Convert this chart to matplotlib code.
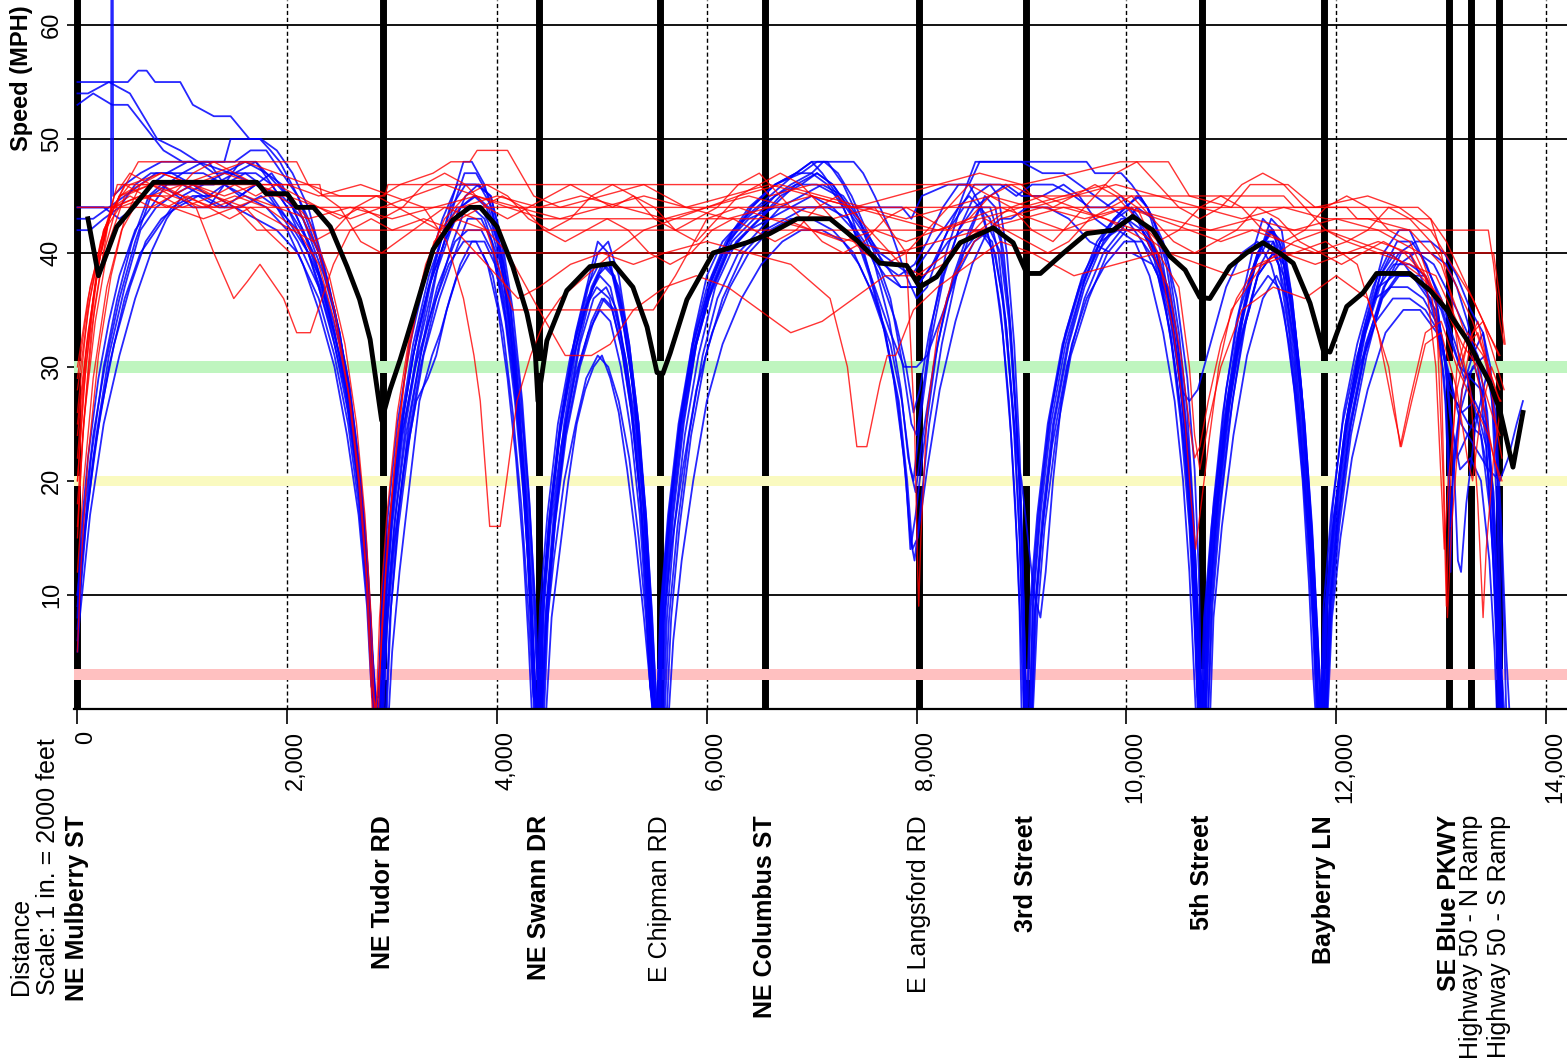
import matplotlib
matplotlib.use('Agg')
import matplotlib.pyplot as plt
from matplotlib.transforms import blended_transform_factory, ScaledTranslation

# cross streets along the corridor (feet from NE Mulberry ST)
street_names = ['NE Mulberry ST', 'NE Tudor RD', 'NE Swann DR', 'E Chipman RD',
                'NE Columbus ST', 'E Langsford RD', '3rd Street', '5th Street',
                'Bayberry LN', 'SE Blue PKWY', 'Highway 50 - N Ramp', 'Highway 50 - S Ramp']
street_ft = [0, 2912, 4400, 5553, 6554, 8021, 9042, 10719, 11883, 13075, 13285, 13552]

x_ticks = [0, 2000, 4000, 6000, 8000, 10000, 12000, 14000]
x_tick_labels = ['0', '2,000', '4,000', '6,000', '8,000', '10,000', '12,000', '14,000']
y_ticks = [10, 20, 30, 40, 50, 60]

# reference speeds drawn as coloured bands (mph)
band_green = 30
band_yellow = 20
band_pink = 3

# average speed profile
mean_ft = [100, 200, 375, 565, 725, 1710, 1800, 2000, 2090, 2250, 2410, 2570, 2690, 2790, 2900,
           2980, 3075, 3200, 3390, 3580, 3740, 3840, 4000, 4150, 4285, 4365, 4390, 4475, 4665,
           4885, 5105, 5295, 5430, 5525, 5580, 5650, 5810, 6060, 6380, 6600, 6860, 7175, 7430,
           7650, 7905, 8030, 8190, 8415, 8730, 8920, 9050, 9180, 9400, 9620, 9875, 10060, 10250,
           10415, 10560, 10700, 10795, 10985, 11145, 11300, 11460, 11590, 11750, 11875, 11940,
           12100, 12255, 12385, 12700, 12895, 13055, 13245, 13465, 13560, 13685, 13780]
mean_mph = [43, 38, 42.3, 44.4, 46.2, 46.2, 45.2, 45.2, 44, 44, 42.3, 38.8, 35.9, 32.4, 25.3,
            28, 30.6, 34.4, 40.3, 42.9, 44, 44, 42.3, 38.8, 34.7, 31.2, 27, 32.3, 36.7,
            38.8, 39.1, 37, 33.5, 29.5, 29.4, 31.2, 35.9, 40, 40.9, 41.7, 43, 43, 41.1,
            39.1, 38.9, 37, 37.9, 40.9, 42.2, 40.9, 38.2, 38.2, 40, 41.7, 42, 43.2, 42,
            39.7, 38.5, 36.1, 36, 38.8, 40, 40.9, 40, 39.1, 35.6, 31.5, 31.3,
            35.3, 36.5, 38.2, 38.2, 36.7, 35, 32.4, 28.6, 26.2, 21.2, 26]

# eastbound runs, (feet, mph)
blue_runs = [
    [(0, 55), (480, 55), (580, 56), (660, 56), (740, 55), (980, 55), (1100, 53), (1300, 52), (1460, 52),
     (1550, 51), (1640, 50), (1740, 50), (1840, 49), (1930, 48), (2100, 45), (2300, 40), (2450, 35),
     (2580, 29), (2680, 22), (2750, 15), (2800, 7), (2830, 0), (2900, 0),
     (2930, 8), (3000, 16), (3100, 24), (3230, 31), (3380, 38), (3550, 44), (3680, 48), (3760, 48),
     (3880, 46), (4000, 42), (4120, 36), (4220, 28), (4300, 19), (4360, 10), (4400, 2), (4430, 0),
     (4470, 9), (4540, 17), (4640, 25), (4760, 32), (4900, 37), (5000, 39), (5100, 38), (5220, 33),
     (5330, 26), (5420, 17), (5480, 8), (5520, 0), (5580, 0),
     (5610, 9), (5680, 17), (5780, 25), (5900, 32), (6050, 38), (6250, 42), (6500, 44), (6800, 46),
     (7000, 47), (7110, 48), (7400, 48), (7490, 47), (7600, 45), (7750, 42), (7900, 38), (8000, 36),
     (8100, 37), (8250, 41), (8400, 44), (8560, 48), (9620, 48), (9700, 47), (9950, 47), (10050, 46),
     (10200, 44), (10350, 41), (10480, 36), (10580, 29), (10650, 21), (10690, 12), (10710, 3), (10740, 0),
     (10780, 10), (10850, 19), (10950, 28), (11080, 35), (11250, 40), (11400, 42), (11500, 40),
     (11600, 34), (11700, 25), (11780, 14), (11830, 5), (11860, 0), (11900, 0),
     (11940, 10), (12020, 19), (12130, 27), (12280, 34), (12450, 40), (12600, 42), (12700, 42),
     (12850, 39), (13000, 36), (13100, 33), (13250, 29), (13380, 24), (13470, 17), (13530, 8), (13560, 0)],
    [(0, 54), (100, 54), (300, 55), (500, 54), (760, 50), (980, 49), (1150, 48), (1460, 47), (1700, 46),
     (1950, 45), (2150, 43), (2350, 38), (2500, 33), (2620, 26), (2720, 17), (2780, 9), (2810, 1), (2870, 1),
     (2900, 9), (2960, 17), (3050, 25), (3170, 32), (3320, 38), (3480, 43), (3620, 46), (3800, 46),
     (3940, 45), (4050, 41), (4150, 35), (4240, 27), (4310, 18), (4360, 9), (4390, 1), (4420, 1),
     (4450, 10), (4520, 18), (4620, 26), (4750, 33), (4880, 38), (4960, 41), (5060, 40), (5180, 35),
     (5300, 28), (5390, 20), (5450, 11), (5490, 3), (5510, 0), (5560, 0),
     (5590, 10), (5660, 18), (5760, 26), (5880, 33), (6000, 38), (6150, 41), (6350, 43), (6600, 45),
     (6850, 47), (7000, 48), (7100, 47), (7250, 45), (7400, 42), (7550, 38), (7700, 33), (7820, 27),
     (7900, 20), (7940, 14), (7990, 17), (8080, 24), (8200, 32), (8350, 38), (8500, 42), (8600, 44),
     (8700, 43), (8780, 40), (8860, 33), (8930, 24), (8980, 15), (9010, 6), (9030, 0), (9080, 0),
     (9110, 9), (9180, 17), (9280, 25), (9420, 32), (9580, 37), (9750, 41), (9900, 43), (10050, 44),
     (10200, 42), (10320, 38), (10430, 32), (10520, 25), (10600, 16), (10650, 7), (10680, 0), (10730, 0),
     (10760, 9), (10830, 18), (10920, 26), (11050, 34), (11200, 40), (11300, 43), (11400, 42),
     (11500, 38), (11600, 31), (11680, 23), (11750, 14), (11800, 5), (11830, 0), (11870, 0),
     (11900, 9), (11970, 18), (12070, 26), (12200, 32), (12350, 37), (12500, 40), (12650, 39),
     (12800, 37), (12950, 35), (13050, 30), (13120, 22), (13160, 13), (13190, 12), (13240, 18),
     (13330, 25), (13450, 30), (13520, 26), (13580, 15), (13620, 5), (13650, 0)],
    [(0, 53), (150, 54), (330, 53), (480, 53), (820, 49), (1000, 48), (1300, 48), (1500, 48), (1650, 49),
     (1800, 49), (1950, 47), (2100, 45), (2250, 42), (2400, 37), (2550, 30), (2650, 23), (2730, 15),
     (2790, 6), (2820, 0), (2880, 0),
     (2910, 8), (2980, 16), (3080, 24), (3200, 31), (3350, 37), (3500, 41), (3650, 44), (3800, 45),
     (3920, 44), (4030, 40), (4120, 34), (4200, 27), (4270, 18), (4320, 9), (4350, 1), (4380, 1),
     (4410, 9), (4480, 17), (4580, 25), (4700, 31), (4830, 35), (4950, 37), (5070, 36), (5180, 32),
     (5280, 26), (5370, 18), (5430, 10), (5470, 2), (5500, 0), (5540, 0),
     (5570, 9), (5640, 17), (5740, 25), (5870, 32), (6020, 37), (6200, 41), (6400, 43), (6650, 44),
     (7000, 44), (7300, 44), (7600, 44), (7860, 44), (7950, 43), (8050, 45), (8300, 46), (8500, 46),
     (8620, 44), (8720, 40), (8820, 33), (8900, 24), (8960, 14), (9000, 5), (9020, 0), (9060, 0),
     (9090, 9), (9160, 17), (9260, 25), (9400, 32), (9560, 37), (9720, 40), (9880, 42), (10000, 42),
     (10150, 42), (10300, 40), (10420, 36), (10520, 30), (10600, 22), (10660, 13), (10700, 4),
     (10720, 0), (10760, 0),
     (10790, 9), (10860, 18), (10960, 27), (11090, 34), (11220, 39), (11350, 41), (11450, 39),
     (11550, 33), (11650, 25), (11730, 16), (11790, 7), (11820, 0), (11870, 0),
     (11900, 8), (11980, 17), (12090, 25), (12230, 32), (12400, 37), (12550, 38), (12700, 38),
     (12850, 38), (12950, 36), (13030, 31), (13080, 26), (13150, 22), (13250, 24), (13350, 26),
     (13430, 23), (13490, 14), (13530, 5), (13550, 0)],
    [(0, 44), (200, 44), (320, 44), (325, 75), (335, 75), (340, 45), (450, 46), (600, 47), (800, 48),
     (1150, 48), (1300, 47), (1500, 47), (1700, 48), (1900, 46), (2100, 44), (2300, 40), (2450, 35),
     (2600, 28), (2700, 20), (2770, 12), (2820, 4), (2850, 0), (2910, 0),
     (2950, 7), (3030, 15), (3140, 23), (3270, 30), (3420, 36), (3580, 41), (3700, 44), (3850, 44),
     (3950, 42), (4060, 38), (4160, 31), (4240, 23), (4300, 15), (4340, 7), (4370, 0), (4420, 0),
     (4460, 8), (4540, 16), (4650, 24), (4780, 30), (4900, 34), (5000, 36), (5100, 35), (5200, 31),
     (5300, 25), (5380, 17), (5440, 9), (5480, 2), (5510, 0), (5600, 0),
     (5640, 8), (5720, 16), (5830, 24), (5960, 31), (6100, 36), (6300, 40), (6500, 42), (6700, 44),
     (6900, 45), (7100, 46), (7300, 45), (7450, 43), (7600, 40), (7750, 36), (7870, 30), (7950, 25),
     (8000, 24), (8060, 28), (8150, 34), (8280, 40), (8420, 44), (8550, 46), (8700, 46),
     (8800, 46), (8950, 45), (9100, 46), (9300, 46), (9500, 45), (9650, 44), (9800, 44), (9950, 45),
     (10100, 43), (10250, 40), (10380, 35), (10480, 29), (10560, 22), (10620, 14), (10660, 6),
     (10680, 0), (10740, 0),
     (10780, 8), (10860, 17), (10970, 26), (11100, 33), (11250, 38), (11400, 40), (11500, 39),
     (11600, 34), (11690, 26), (11770, 16), (11820, 7), (11850, 0), (11910, 0),
     (11950, 9), (12030, 17), (12140, 25), (12290, 32), (12450, 37), (12600, 39), (12750, 40),
     (12900, 40), (13050, 39), (13150, 37), (13250, 34), (13350, 30), (13430, 23), (13500, 13),
     (13540, 4), (13560, 0)],
    [(0, 43), (150, 43), (300, 44), (450, 45), (600, 46), (750, 47), (900, 47), (1100, 46), (1250, 45),
     (1400, 46), (1550, 48), (1700, 48), (1850, 46), (2000, 44), (2200, 41), (2350, 37), (2500, 32),
     (2600, 26), (2700, 18), (2760, 11), (2800, 4), (2820, 0), (2880, 0),
     (2910, 9), (2980, 17), (3080, 25), (3200, 32), (3350, 38), (3500, 42), (3620, 44), (3760, 44),
     (3880, 43), (3990, 40), (4090, 35), (4180, 28), (4260, 19), (4320, 10), (4360, 2), (4390, 0),
     (4420, 8), (4490, 16), (4590, 24), (4710, 30), (4840, 35), (4960, 38), (5060, 39), (5160, 37),
     (5260, 32), (5350, 25), (5420, 17), (5470, 9), (5510, 2), (5530, 0), (5590, 0),
     (5620, 8), (5690, 16), (5790, 24), (5920, 31), (6080, 37), (6280, 41), (6500, 43), (6700, 45),
     (6900, 46), (7050, 47), (7200, 46), (7350, 44), (7500, 40), (7650, 35), (7780, 29), (7880, 22),
     (7940, 15), (7980, 13), (8030, 17), (8120, 25), (8240, 32), (8380, 38), (8520, 42), (8650, 45),
     (8750, 44), (8830, 40), (8900, 33), (8960, 24), (9000, 15), (9030, 6), (9050, 0), (9100, 0),
     (9140, 9), (9210, 17), (9310, 25), (9450, 32), (9600, 37), (9780, 41), (9950, 43), (10100, 43),
     (10250, 41), (10380, 37), (10480, 31), (10560, 24), (10630, 15), (10680, 6), (10700, 0), (10760, 0),
     (10800, 9), (10880, 18), (10990, 27), (11120, 35), (11260, 40), (11380, 42), (11480, 40),
     (11580, 35), (11670, 27), (11740, 18), (11800, 8), (11830, 0), (11880, 0),
     (11920, 9), (12000, 18), (12110, 26), (12250, 33), (12420, 38), (12560, 40), (12700, 40),
     (12850, 37), (12980, 33), (13040, 27), (13070, 20), (13090, 12), (13110, 20), (13180, 26),
     (13300, 30), (13420, 31), (13500, 26), (13560, 17), (13600, 7), (13620, 0)],
    [(0, 42), (120, 42), (250, 43), (400, 44), (550, 46), (700, 47), (850, 47), (1000, 47), (1200, 48),
     (1400, 48), (1460, 50), (1750, 50), (1900, 49), (2050, 47), (2200, 44), (2350, 39), (2500, 33),
     (2630, 25), (2730, 16), (2790, 8), (2830, 0), (2940, 0),
     (2980, 8), (3060, 16), (3170, 24), (3300, 31), (3450, 36), (3600, 40), (3720, 43), (3850, 43),
     (3950, 41), (4060, 36), (4150, 30), (4230, 22), (4290, 14), (4330, 6), (4350, 0), (4400, 0),
     (4440, 8), (4510, 16), (4610, 23), (4740, 29), (4870, 33), (4980, 35), (5080, 34), (5180, 30),
     (5280, 24), (5360, 17), (5420, 9), (5460, 2), (5480, 0), (5520, 0),
     (5560, 9), (5630, 17), (5730, 25), (5860, 32), (6000, 37), (6180, 41), (6400, 44), (6650, 46),
     (6850, 47), (7000, 47), (7150, 46), (7300, 44), (7450, 41), (7600, 37), (7750, 33), (7880, 30),
     (8000, 30), (8100, 31), (8220, 34), (8380, 38), (8550, 41), (8700, 42),
     (8800, 40), (8880, 34), (8950, 25), (9000, 16), (9020, 8), (9040, 0), (9090, 0),
     (9120, 8), (9190, 15), (9290, 23), (9430, 30), (9600, 36), (9780, 40), (9950, 42), (10100, 44),
     (10250, 43), (10400, 39), (10500, 33), (10580, 26), (10640, 17), (10680, 8), (10700, 0), (10780, 0),
     (10810, 9), (10880, 17), (10980, 25), (11110, 33), (11250, 38), (11400, 40), (11500, 38),
     (11600, 32), (11680, 24), (11750, 15), (11800, 6), (11830, 0), (11890, 0),
     (11930, 8), (12010, 16), (12120, 24), (12270, 31), (12440, 36), (12600, 38), (12750, 38),
     (12900, 36), (13000, 33), (13080, 28), (13200, 26), (13320, 27), (13420, 25), (13500, 19),
     (13550, 9), (13580, 0)],
    [(0, 8), (30, 15), (100, 22), (200, 29), (300, 34), (400, 38), (550, 42), (700, 44), (850, 46),
     (1000, 46), (1200, 45), (1400, 44), (1550, 45), (1700, 46), (1850, 45), (2000, 43), (2200, 40),
     (2350, 36), (2500, 31), (2620, 25), (2720, 17), (2790, 8), (2830, 1), (2900, 1),
     (2940, 10), (3010, 18), (3110, 26), (3240, 33), (3400, 39), (3560, 44), (3700, 46), (3830, 46),
     (3950, 44), (4060, 39), (4160, 32), (4250, 24), (4320, 14), (4370, 5), (4400, 0), (4450, 0),
     (4490, 9), (4560, 17), (4660, 25), (4790, 32), (4920, 36), (5040, 37), (5140, 35), (5240, 30),
     (5330, 23), (5410, 14), (5470, 5), (5500, 0), (5550, 0),
     (5580, 9), (5650, 17), (5750, 25), (5870, 31), (6020, 36), (6200, 40), (6400, 42), (6600, 43),
     (6800, 44), (7000, 45), (7200, 44), (7400, 42), (7550, 40), (7700, 38), (7850, 37), (8000, 37),
     (8150, 39), (8300, 41), (8450, 42),
     (8600, 42), (8750, 40), (8850, 34), (8930, 25), (8980, 16), (9010, 7), (9030, 0), (9080, 0),
     (9110, 10), (9180, 18), (9280, 26), (9420, 33), (9580, 38), (9750, 41), (9920, 42), (10080, 41),
     (10220, 38), (10350, 33), (10460, 27), (10540, 20), (10600, 12), (10640, 4), (10660, 0), (10720, 0),
     (10750, 8), (10820, 16), (10920, 24), (11050, 31), (11200, 36), (11350, 38), (11450, 37),
     (11550, 32), (11640, 25), (11720, 16), (11780, 7), (11810, 0), (11850, 0),
     (11880, 9), (11950, 17), (12060, 25), (12200, 31), (12370, 36), (12520, 37), (12680, 37),
     (12830, 36), (12950, 34), (13030, 29), (13070, 23), (13090, 16), (13120, 22), (13200, 28),
     (13300, 31), (13400, 33), (13470, 30), (13530, 22), (13560, 12), (13580, 3), (13600, 0)],
    [(0, 5), (50, 14), (130, 22), (250, 30), (380, 36), (520, 41), (680, 45), (800, 46), (950, 45),
     (1100, 44), (1250, 44), (1400, 46), (1600, 47), (1750, 46), (1900, 44), (2100, 41), (2300, 37),
     (2450, 32), (2580, 26), (2680, 19), (2760, 11), (2810, 3), (2840, 0), (2900, 0),
     (2950, 9), (3020, 16), (3130, 24), (3270, 31), (3430, 37), (3600, 41), (3720, 42), (3850, 42),
     (3960, 40), (4070, 35), (4170, 28), (4250, 20), (4310, 12), (4350, 4), (4370, 0), (4430, 0),
     (4470, 8), (4550, 16), (4660, 24), (4790, 30), (4920, 34), (5020, 36), (5120, 35), (5220, 31),
     (5320, 25), (5400, 17), (5460, 8), (5500, 1), (5530, 0), (5620, 0),
     (5660, 8), (5740, 16), (5850, 24), (5990, 31), (6150, 36), (6350, 40), (6550, 42), (6750, 43),
     (6950, 44), (7150, 44), (7350, 43), (7500, 41), (7650, 38), (7800, 34), (7900, 30), (7970, 26),
     (8030, 28), (8120, 33), (8250, 38), (8400, 42), (8550, 44), (8700, 45),
     (8850, 46), (9000, 45), (9200, 45), (9400, 46), (9550, 45), (9700, 43), (9850, 42), (10000, 43),
     (10150, 42), (10300, 39), (10420, 34), (10520, 28), (10600, 20), (10660, 11), (10700, 3),
     (10720, 0), (10780, 0),
     (10820, 9), (10900, 18), (11010, 27), (11140, 34), (11280, 39), (11400, 41), (11500, 39),
     (11600, 33), (11690, 25), (11760, 16), (11820, 6), (11850, 0), (11900, 0),
     (11940, 9), (12020, 17), (12130, 25), (12280, 32), (12430, 36), (12580, 38), (12730, 38),
     (12880, 37), (13000, 35), (13100, 32), (13220, 29), (13320, 30), (13420, 27), (13480, 19),
     (13520, 9), (13540, 0)],
    [(0, 10), (60, 17), (150, 24), (260, 30), (400, 36), (550, 41), (700, 45), (850, 46), (1000, 47),
     (1200, 47), (1400, 46), (1600, 45), (1800, 44), (2000, 42), (2150, 39), (2300, 35), (2450, 30),
     (2570, 24), (2680, 17), (2760, 9), (2800, 2), (2860, 0),
     (2900, 8), (2970, 16), (3070, 24), (3200, 31), (3350, 37), (3500, 41), (3650, 44), (3780, 45),
     (3900, 44), (4000, 41), (4100, 35), (4190, 28), (4260, 20), (4320, 11), (4360, 3), (4380, 0),
     (4440, 0),
     (4480, 9), (4550, 17), (4650, 25), (4780, 32), (4910, 37), (5020, 39), (5120, 38), (5220, 34),
     (5310, 27), (5390, 19), (5450, 10), (5490, 2), (5510, 0), (5570, 0),
     (5600, 9), (5670, 17), (5770, 25), (5900, 32), (6050, 37), (6240, 41), (6450, 43), (6650, 45),
     (6850, 46), (7050, 47), (7200, 46), (7350, 44), (7500, 42), (7650, 40), (7800, 39), (7950, 38),
     (8100, 40), (8250, 42), (8400, 44), (8500, 45),
     (8600, 44), (8700, 41), (8800, 35), (8880, 27), (8940, 18), (8980, 9), (9000, 0), (9050, 0),
     (9080, 9), (9150, 17), (9250, 25), (9390, 32), (9550, 37), (9720, 41), (9880, 43), (10000, 44),
     (10100, 45), (10200, 44), (10330, 40), (10440, 34), (10530, 27), (10600, 18), (10650, 9),
     (10680, 1), (10710, 0),
     (10740, 8), (10810, 16), (10910, 24), (11040, 32), (11180, 38), (11300, 41), (11400, 41),
     (11500, 37), (11600, 30), (11680, 22), (11750, 13), (11800, 4), (11820, 0), (11860, 0),
     (11900, 9), (11980, 17), (12090, 25), (12240, 32), (12400, 37), (12550, 39), (12700, 39),
     (12850, 38), (12970, 35), (13040, 30), (13100, 25), (13180, 21), (13280, 22), (13380, 20),
     (13460, 13), (13510, 5), (13530, 0)],
    [(0, 7), (80, 16), (180, 24), (300, 31), (450, 37), (600, 42), (750, 44), (900, 45), (1100, 46),
     (1300, 46), (1500, 47), (1700, 47), (1850, 46), (2000, 44), (2200, 40), (2400, 34), (2550, 28),
     (2660, 21), (2750, 13), (2810, 5), (2850, 0), (2970, 0),
     (3000, 5), (3070, 12), (3170, 20), (3260, 27), (3380, 31), (3460, 33), (3550, 36), (3650, 39),
     (3760, 41), (3880, 41), (3980, 39), (4080, 34), (4170, 27), (4250, 19), (4310, 11), (4350, 3),
     (4370, 0), (4420, 0),
     (4460, 6), (4540, 13), (4640, 20), (4750, 25), (4850, 29), (4960, 31), (5060, 30), (5160, 27),
     (5260, 22), (5350, 15), (5420, 8), (5460, 2), (5490, 0), (5540, 0),
     (5580, 7), (5660, 14), (5770, 21), (5900, 28), (6050, 33), (6220, 37), (6400, 40), (6600, 42),
     (6800, 43), (7000, 43), (7200, 42), (7400, 40), (7550, 37), (7700, 33), (7830, 27), (7910, 20),
     (7960, 14), (8010, 15), (8100, 21), (8220, 28), (8370, 34), (8530, 39), (8680, 42), (8800, 43),
     (8900, 43), (9050, 44), (9250, 44), (9450, 43), (9650, 41), (9850, 40), (10050, 40), (10250, 39),
     (10400, 36), (10480, 31), (10520, 28), (10600, 27), (10680, 28), (10800, 32), (10950, 37),
     (11100, 40), (11250, 41), (11380, 39), (11500, 35), (11600, 28), (11680, 20), (11740, 11),
     (11780, 3), (11800, 0), (11850, 0),
     (11890, 8), (11970, 16), (12080, 24), (12220, 30), (12380, 34), (12540, 36), (12700, 36),
     (12850, 35), (12980, 33), (13060, 30), (13140, 27), (13260, 25), (13380, 24), (13480, 19),
     (13540, 10), (13570, 2), (13590, 0)],
    [(0, 9), (100, 18), (220, 26), (350, 32), (500, 37), (650, 41), (800, 43), (950, 44), (1150, 45),
     (1350, 44), (1550, 44), (1750, 45), (1900, 44), (2100, 42), (2300, 38), (2450, 33), (2600, 26),
     (2700, 18), (2770, 10), (2810, 2), (2880, 0),
     (2920, 8), (2990, 16), (3090, 24), (3220, 30), (3380, 35), (3540, 39), (3680, 41), (3800, 41),
     (3910, 39), (4010, 35), (4100, 29), (4180, 22), (4250, 14), (4300, 6), (4330, 0), (4380, 0),
     (4420, 8), (4500, 16), (4600, 24), (4730, 31), (4860, 36), (4980, 38), (5080, 37), (5180, 33),
     (5270, 27), (5360, 19), (5420, 10), (5460, 3), (5480, 0), (5530, 0),
     (5560, 8), (5630, 16), (5730, 24), (5860, 31), (6010, 36), (6190, 40), (6400, 42), (6620, 44),
     (6850, 46), (7050, 46), (7250, 45), (7400, 43), (7550, 41), (7700, 39), (7850, 37), (8000, 37),
     (8150, 39), (8300, 42), (8450, 44), (8600, 44),
     (8700, 44), (8800, 41), (8880, 35), (8940, 27), (8990, 18), (9020, 9), (9040, 0), (9110, 0),
     (9150, 8), (9220, 16), (9330, 24), (9470, 31), (9640, 36), (9820, 40), (10000, 42), (10150, 42),
     (10280, 40), (10400, 36), (10500, 30), (10580, 23), (10640, 14), (10680, 5), (10700, 0), (10740, 0),
     (10770, 9), (10840, 17), (10940, 25), (11070, 33), (11220, 39), (11360, 42), (11460, 41),
     (11560, 36), (11650, 29), (11720, 20), (11780, 10), (11810, 2), (11830, 0), (11880, 0),
     (11910, 9), (11990, 17), (12100, 25), (12250, 32), (12420, 38), (12580, 41), (12720, 41),
     (12860, 39), (12980, 36), (13080, 33), (13180, 30), (13280, 29), (13380, 28), (13460, 23),
     (13520, 13), (13550, 4), (13570, 0)],
    [(0, 6), (120, 17), (250, 25), (400, 31), (550, 36), (700, 40), (850, 43), (1000, 45), (1200, 46),
     (1400, 47), (1600, 48), (1800, 47), (1950, 46), (2100, 43), (2250, 40), (2400, 35), (2550, 29),
     (2650, 22), (2740, 14), (2800, 6), (2840, 0), (2920, 0),
     (2960, 9), (3030, 17), (3130, 25), (3260, 32), (3410, 38), (3560, 42), (3700, 45), (3820, 46),
     (3940, 45), (4040, 41), (4130, 35), (4210, 27), (4280, 18), (4330, 9), (4360, 1), (4410, 0),
     (4440, 9), (4510, 17), (4610, 25), (4740, 32), (4870, 37), (4960, 40), (5060, 41), (5160, 38),
     (5260, 32), (5350, 25), (5420, 16), (5470, 7), (5500, 0), (5540, 0),
     (5570, 9), (5640, 17), (5740, 25), (5870, 32), (6020, 37), (6200, 41), (6420, 44), (6650, 46),
     (6900, 47), (7050, 48), (7150, 48), (7300, 46), (7450, 43), (7600, 39), (7740, 34), (7850, 28),
     (7920, 22), (7970, 20), (8030, 25), (8130, 32), (8260, 38), (8400, 42), (8550, 45), (8700, 46),
     (8780, 45), (8860, 40), (8930, 32), (8980, 23), (9010, 14), (9030, 5), (9040, 0), (9100, 0),
     (9130, 9), (9200, 17), (9300, 25), (9440, 32), (9610, 38), (9800, 42), (9980, 44), (10130, 45),
     (10260, 43), (10380, 39), (10480, 33), (10560, 25), (10620, 16), (10660, 7), (10690, 0), (10740, 0),
     (10770, 8), (10850, 17), (10950, 25), (11080, 33), (11230, 39), (11380, 43), (11480, 42),
     (11580, 36), (11670, 28), (11740, 19), (11790, 9), (11820, 1), (11850, 0), (11910, 0),
     (11950, 8), (12030, 16), (12140, 24), (12290, 31), (12460, 37), (12620, 40), (12780, 40),
     (12930, 39), (13040, 37), (13150, 35), (13250, 33), (13350, 31), (13440, 26), (13500, 18),
     (13540, 8), (13570, 0)],
    [(0, 44), (250, 44), (400, 43), (550, 44), (700, 46), (850, 47), (1050, 48), (1250, 48), (1400, 46),
     (1550, 45), (1700, 46), (1850, 47), (2000, 45), (2150, 42), (2300, 38), (2450, 33), (2580, 27),
     (2690, 19), (2770, 11), (2820, 3), (2850, 0), (2950, 0),
     (2990, 9), (3060, 17), (3160, 25), (3290, 32), (3440, 39), (3580, 44), (3690, 47), (3800, 47),
     (3920, 45), (4030, 40), (4120, 34), (4200, 26), (4270, 17), (4320, 8), (4350, 1), (4400, 0),
     (4430, 9), (4500, 17), (4600, 25), (4730, 32), (4860, 37), (4970, 39), (5070, 39), (5170, 36),
     (5270, 30), (5360, 22), (5430, 13), (5470, 5), (5490, 0), (5550, 0),
     (5590, 9), (5660, 17), (5760, 25), (5890, 32), (6040, 37), (6220, 41), (6430, 44), (6650, 46),
     (6850, 47), (7000, 48), (7120, 48), (7250, 47), (7380, 45), (7520, 42), (7680, 39), (7830, 38),
     (7980, 39), (8100, 41), (8250, 44), (8400, 46), (8500, 46),
     (8600, 48), (8800, 48), (9000, 48), (9200, 47), (9400, 47), (9550, 46), (9700, 45), (9850, 44),
     (10000, 43), (10150, 41), (10300, 38), (10420, 33), (10520, 26), (10600, 18), (10650, 9),
     (10680, 1), (10700, 0), (10750, 0),
     (10790, 9), (10870, 18), (10970, 27), (11100, 34), (11250, 40), (11380, 42), (11480, 41),
     (11580, 36), (11660, 29), (11730, 20), (11790, 10), (11820, 2), (11840, 0), (11900, 0),
     (11940, 9), (12020, 18), (12130, 26), (12280, 33), (12450, 38), (12600, 40), (12760, 41),
     (12900, 41), (13030, 40), (13150, 38), (13280, 35), (13400, 33), (13480, 28), (13530, 18),
     (13560, 8), (13580, 0)],
    [(0, 10), (150, 22), (300, 30), (450, 36), (600, 40), (750, 42), (900, 44), (1100, 45), (1300, 45),
     (1500, 44), (1700, 43), (1900, 42), (2100, 40), (2300, 36), (2450, 31), (2580, 25), (2680, 18),
     (2760, 10), (2810, 3), (2850, 0), (2900, 0),
     (2940, 7), (3010, 14), (3110, 21), (3230, 27), (3340, 29), (3420, 31), (3520, 35), (3620, 38),
     (3740, 40), (3860, 40), (3960, 38), (4060, 33), (4150, 26), (4230, 18), (4290, 10), (4340, 2),
     (4360, 0), (4470, 0),
     (4520, 8), (4600, 14), (4680, 20), (4760, 25), (4840, 28), (4920, 30), (5000, 31), (5080, 29),
     (5160, 26), (5240, 21), (5320, 15), (5400, 8), (5460, 2), (5490, 0), (5640, 0),
     (5680, 6), (5760, 13), (5870, 20), (6000, 27), (6150, 32), (6330, 36), (6520, 39), (6720, 41),
     (6900, 42), (7100, 42), (7300, 41), (7450, 39), (7600, 36), (7750, 32), (7860, 27), (7940, 21),
     (7990, 19), (8060, 24), (8160, 30), (8290, 36), (8440, 40), (8600, 42),
     (8720, 41), (8820, 36), (8900, 28), (8960, 22), (9000, 20), (9060, 15), (9120, 10), (9180, 8),
     (9230, 12), (9300, 20), (9380, 27), (9480, 32), (9620, 36), (9800, 39), (9980, 41), (10150, 41),
     (10300, 39), (10420, 35), (10520, 29), (10600, 21), (10660, 12), (10700, 4), (10720, 0), (10800, 0),
     (10830, 8), (10910, 16), (11020, 24), (11150, 31), (11300, 36), (11430, 38), (11530, 36),
     (11620, 31), (11700, 24), (11770, 15), (11820, 6), (11850, 0), (11920, 0),
     (11960, 8), (12040, 15), (12150, 22), (12300, 28), (12470, 33), (12640, 35), (12800, 35),
     (12960, 33), (13080, 29), (13190, 25), (13320, 23), (13450, 21), (13560, 20), (13640, 22),
     (13720, 25), (13780, 27)],
]

# westbound runs, (feet, mph)
red_runs = [
    [(0, 44), (12780, 44), (12900, 43), (13050, 41), (13200, 38), (13350, 35), (13450, 33), (13550, 31)],
    [(0, 25), (100, 33), (220, 40), (330, 44), (600, 45), (800, 45), (1000, 44), (1300, 45), (1500, 44),
     (1710, 42), (13450, 42), (13500, 39), (13560, 34), (13600, 32)],
    [(0, 28), (120, 36), (250, 42), (400, 45), (700, 46), (1000, 46), (1300, 45), (1600, 44), (1800, 42),
     (2030, 40), (13500, 40), (13560, 36), (13610, 32)],
    [(0, 20), (60, 28), (150, 36), (260, 42), (380, 46), (2310, 46), (2330, 45), (2930, 45), (2960, 46),
     (6500, 46), (6600, 45), (7000, 46), (9000, 46), (9100, 45), (11500, 45), (11600, 44), (12100, 44),
     (12200, 43), (12900, 43), (13000, 40), (13100, 36), (13180, 30), (13250, 32), (13350, 34),
     (13450, 30), (13520, 25), (13580, 22)],
    [(0, 15), (50, 24), (130, 33), (250, 40), (400, 45), (580, 48), (2090, 48), (2200, 46), (2500, 45),
     (2900, 45), (3075, 46), (3390, 47), (3560, 48), (3740, 48), (3810, 49), (4100, 49), (4350, 45),
     (4600, 44), (5000, 45), (5400, 46), (5800, 44), (6200, 45), (6600, 46), (7000, 45), (7400, 44),
     (7800, 45), (8200, 46), (8600, 47), (9000, 46), (9500, 47), (9940, 48), (10400, 48), (10600, 45),
     (11000, 44), (11180, 46), (11540, 46), (11800, 44), (12300, 45), (12600, 44), (12900, 42),
     (13100, 39), (13300, 36), (13450, 33), (13560, 31)],
    [(0, 30), (100, 36), (250, 42), (400, 45), (600, 46), (800, 46), (1000, 45), (1130, 44), (1300, 40),
     (1490, 36), (1620, 37.5), (1740, 39), (1965, 36), (2090, 33), (2220, 33), (2440, 39), (2600, 42),
     (2800, 43), (3000, 42), (3300, 43), (3600, 42), (3800, 40), (4000, 38), (4200, 36), (4400, 37),
     (4700, 39), (5000, 40), (5300, 39), (5600, 40), (6000, 41), (6400, 40), (6800, 39), (7175, 36),
     (7340, 30), (7430, 23), (7525, 23), (7650, 28.6), (7720, 31), (7800, 31), (7970, 35), (8200, 37),
     (8500, 39), (8800, 41), (9100, 40), (9500, 38), (9900, 39), (10300, 40), (10500, 37), (10600, 30),
     (10650, 24), (10700, 21), (10780, 25), (10900, 30), (11100, 35), (11400, 37), (11700, 36),
     (12000, 38), (12300, 36), (12500, 30), (12610, 23), (12700, 27), (12850, 33), (13000, 34),
     (13150, 30), (13300, 27), (13450, 24), (13560, 20)],
    [(0, 5), (30, 12), (100, 22), (200, 31), (320, 38), (450, 43), (600, 46), (800, 47), (1100, 46),
     (1400, 47), (1700, 46), (2000, 45), (2200, 43), (2400, 38), (2550, 32), (2660, 25), (2740, 17),
     (2800, 8), (2830, 0), (2870, 0), (2900, 7), (2960, 15), (3050, 24), (3160, 32), (3300, 38),
     (3450, 42), (3650, 44), (4000, 45), (4400, 44), (4800, 45), (5200, 44), (5600, 43), (6000, 44),
     (6400, 45), (6800, 44), (7200, 43), (7600, 44), (7900, 40), (7980, 25), (8010, 12), (8020, 9),
     (8040, 15), (8100, 26), (8200, 33), (8350, 38), (8550, 41), (8800, 43), (9200, 44), (9600, 43),
     (10000, 44), (10400, 43), (10800, 42), (11200, 43), (11600, 42), (12000, 43), (12400, 42),
     (12800, 40), (12950, 36), (13020, 20), (13050, 9), (13080, 18), (13150, 30), (13250, 33),
     (13400, 31), (13500, 28), (13580, 25)],
    [(0, 12), (60, 20), (150, 29), (280, 37), (420, 42), (600, 45), (900, 45), (1200, 44), (1500, 45),
     (1800, 44), (2100, 42), (2300, 39), (2450, 34), (2600, 27), (2700, 19), (2770, 10), (2810, 2),
     (2840, 0), (2880, 3), (2940, 12), (3020, 21), (3120, 29), (3250, 36), (3400, 41), (3600, 43),
     (3900, 42), (4150, 35), (4500, 35), (5000, 35), (5490, 35), (5700, 38), (6000, 43), (6300, 44),
     (6600, 43), (7000, 42), (7400, 41), (7800, 40), (8200, 41), (8600, 42), (9000, 43), (9400, 44),
     (9800, 43), (10200, 41), (10400, 37), (10520, 31), (10600, 25), (10650, 22), (10700, 23),
     (10780, 27), (10900, 32), (11050, 36), (11250, 39), (11500, 40), (11800, 39), (12100, 40),
     (12400, 41), (12700, 40), (12900, 37), (13000, 30), (13040, 15), (13060, 8), (13100, 16),
     (13200, 28), (13300, 33), (13400, 34), (13500, 31), (13600, 28)],
    [(0, 24), (90, 32), (200, 39), (330, 44), (500, 46), (800, 47), (1100, 46), (1400, 45), (1700, 46),
     (2000, 46), (2300, 45), (2700, 46), (3000, 45), (3300, 44), (3520, 41), (3680, 36), (3780, 31),
     (3840, 27), (3930, 16), (4030, 16), (4090, 20), (4190, 27), (4320, 31), (4450, 34), (4600, 36),
     (4850, 38), (5100, 40), (5400, 42), (5700, 43), (6000, 44), (6300, 45), (6700, 46), (7100, 45),
     (7500, 44), (7900, 43), (8300, 44), (8700, 45), (9100, 44), (9500, 45), (9900, 46), (10300, 45),
     (10700, 44), (11100, 43), (11500, 44), (11900, 43), (12300, 43), (12700, 42), (13000, 39),
     (13150, 35), (13300, 31), (13420, 26), (13500, 22), (13580, 20)],
    [(0, 18), (70, 26), (170, 34), (300, 41), (450, 45), (700, 46), (1000, 45), (1300, 44), (1600, 45),
     (1900, 44), (2200, 43), (2600, 44), (3000, 43), (3400, 44), (3800, 45), (4200, 44), (4600, 43),
     (5000, 44), (5400, 45), (5800, 44), (6200, 43), (6600, 44), (7000, 45), (7400, 44), (7800, 43),
     (8200, 42), (8600, 43), (9000, 44), (9400, 45), (9800, 46), (10100, 44), (10300, 40), (10450, 33),
     (10560, 25), (10620, 18), (10660, 14), (10700, 17), (10780, 23), (10880, 30), (11000, 35),
     (11300, 39), (11600, 41), (11900, 42), (12200, 41), (12500, 40), (12800, 38), (13000, 36),
     (13150, 33), (13280, 28), (13350, 18), (13400, 8), (13430, 14), (13500, 22), (13560, 26),
     (13600, 24)],
    [(0, 26), (100, 35), (220, 41), (350, 44), (600, 45), (900, 44), (1200, 43), (1500, 44), (1800, 45),
     (2000, 45), (2300, 44), (2600, 43), (2900, 44), (3200, 45), (3500, 46), (3800, 45), (4100, 44),
     (4440, 43), (6730, 43), (7000, 42), (7300, 41), (7600, 42), (7900, 41), (8200, 42), (8500, 43),
     (8800, 44), (9100, 43), (9400, 42), (9700, 43), (10000, 44), (10300, 43), (10600, 42),
     (10900, 41), (11200, 42), (11500, 41), (11800, 40), (12100, 41), (12400, 40), (12700, 39),
     (12950, 38), (13100, 35), (13250, 32), (13400, 30), (13500, 28), (13570, 27)],
    [(0, 29), (120, 37), (260, 42), (400, 44), (700, 45), (1000, 46), (1300, 47), (1600, 48), (1900, 47),
     (2200, 46), (2500, 44), (2700, 41), (2900, 40), (3200, 42), (3500, 44), (3800, 43), (4100, 40),
     (4400, 35), (4650, 31), (4900, 31), (5080, 32), (5300, 35), (5600, 37), (5900, 38), (6200, 37),
     (6500, 35), (6800, 33), (7100, 34), (7400, 36), (7700, 38), (8000, 38), (8300, 40), (8600, 42),
     (8900, 44), (9200, 45), (9500, 44), (9800, 43), (10100, 42), (10400, 40), (10700, 39),
     (11000, 38), (11300, 39), (11600, 40), (11900, 41), (12200, 39), (12400, 33), (12550, 26),
     (12620, 23), (12720, 27), (12850, 32), (13000, 33), (13150, 28), (13250, 22), (13300, 20),
     (13380, 26), (13480, 30), (13560, 28)],
    [(0, 20), (80, 30), (200, 39), (350, 45), (500, 47), (700, 46), (900, 45), (1100, 46), (1300, 45),
     (1500, 46), (1700, 45), (1900, 46), (2100, 45), (2300, 44), (2500, 43), (2700, 44), (2900, 43),
     (3100, 44), (3300, 46), (3500, 47), (3700, 46), (3900, 44), (4100, 43), (4300, 44), (4500, 45),
     (4700, 46), (4900, 45), (5100, 44), (5300, 45), (5500, 44), (5700, 42), (5900, 41), (6100, 43),
     (6300, 45), (6500, 46), (6700, 47), (6900, 46), (7100, 44), (7300, 42), (7500, 40), (7700, 39),
     (7900, 40), (8100, 42), (8300, 44), (8500, 46), (8700, 45), (8900, 44), (9100, 42), (9300, 41),
     (9500, 43), (9700, 45), (9900, 47), (10100, 48), (10300, 46), (10500, 44), (10700, 43),
     (10900, 44), (11100, 46), (11300, 47), (11500, 46), (11700, 44), (11900, 42), (12100, 41),
     (12300, 42), (12500, 44), (12700, 43), (12900, 41), (13100, 38), (13300, 34), (13450, 30),
     (13560, 27)],
    [(0, 16), (60, 25), (160, 35), (300, 43), (450, 46), (650, 45), (850, 44), (1050, 45), (1250, 44),
     (1450, 43), (1650, 44), (1850, 43), (2050, 42), (2250, 41), (2450, 42), (2650, 44), (2850, 45),
     (3050, 44), (3250, 43), (3450, 42), (3650, 43), (3850, 44), (4050, 45), (4250, 44), (4450, 42),
     (4650, 41), (4850, 42), (5050, 43), (5250, 42), (5450, 40), (5650, 39), (5850, 40), (6050, 42),
     (6250, 43), (6450, 42), (6650, 41), (6850, 42), (7050, 44), (7250, 45), (7450, 43), (7650, 41),
     (7850, 39), (8050, 38), (8250, 39), (8450, 41), (8650, 43), (8850, 42), (9050, 41), (9250, 40),
     (9450, 41), (9650, 43), (9850, 44), (10050, 45), (10250, 43), (10450, 41), (10650, 40),
     (10850, 41), (11050, 42), (11250, 44), (11450, 43), (11650, 41), (11850, 40), (12050, 39),
     (12250, 40), (12450, 41), (12650, 40), (12850, 38), (13050, 35), (13200, 32), (13350, 30),
     (13480, 26), (13560, 24)],
    [(0, 22), (80, 31), (190, 39), (330, 44), (500, 45), (700, 44), (900, 45), (1100, 47), (1300, 48),
     (1500, 47), (1700, 46), (1900, 45), (2100, 44), (2300, 40), (2450, 35), (2580, 28), (2680, 20),
     (2750, 12), (2790, 4), (2810, 0), (2850, 0), (2880, 8), (2950, 17), (3050, 26), (3170, 33),
     (3320, 39), (3500, 43), (3700, 45), (3900, 46), (4100, 45), (4300, 43), (4500, 42), (4700, 43),
     (4900, 45), (5100, 46), (5300, 45), (5500, 43), (5700, 42), (5900, 43), (6100, 44), (6300, 46),
     (6500, 47), (6700, 45), (6900, 43), (7100, 41), (7300, 40), (7500, 41), (7700, 43), (7900, 44),
     (8100, 43), (8300, 42), (8500, 43), (8700, 45), (8900, 46), (9100, 45), (9300, 44), (9500, 45),
     (9700, 46), (9900, 45), (10100, 43), (10300, 41), (10500, 42), (10700, 44), (10900, 45),
     (11100, 44), (11300, 42), (11500, 41), (11700, 42), (11900, 44), (12100, 45), (12300, 44),
     (12500, 42), (12700, 41), (12850, 38), (12950, 30), (13000, 20), (13030, 14), (13070, 20),
     (13150, 28), (13250, 32), (13350, 33), (13450, 30), (13550, 27)],
]


def draw_chart():
    plt.rcParams['font.family'] = ['Liberation Sans', 'DejaVu Sans']

    W, H = 1567, 1063
    fig = plt.figure(figsize=(W / 100, H / 100), dpi=100)
    left_px, bottom_px = 74, 708.7
    ax = fig.add_axes([left_px / W, 1 - bottom_px / H, 1 - left_px / W, bottom_px / H])
    ax.set_xlim(-33, 14200)
    ax.set_ylim(0, 62.2)

    # grid: solid horizontals, dashed verticals
    for y in y_ticks:
        ax.axhline(y, color='black', lw=1.3, zorder=1)
    for x in x_ticks[1:]:
        ax.axvline(x, color='black', lw=1.0, ls=(0, (3, 2)), zorder=1)

    # intersections
    for s in street_ft:
        ax.axvline(s, color='black', lw=5, zorder=2)

    # reference speed bands
    ax.axhspan(band_green - 0.5, band_green + 0.5, color='#bff5bf', lw=0, zorder=3)
    ax.axhspan(band_yellow - 0.45, band_yellow + 0.45, color='#fafac0', lw=0, zorder=3)
    ax.axhspan(band_pink - 0.45, band_pink + 0.45, color='#ffc0c0', lw=0, zorder=3)

    for run in blue_runs:
        ft, mph = zip(*run)
        ax.plot(ft, mph, color='#0000ff', lw=1.3, alpha=0.85, zorder=4)
    for run in red_runs:
        ft, mph = zip(*run)
        ax.plot(ft, mph, color='#ff0000', lw=1.0, alpha=0.8, zorder=5)

    ax.plot(mean_ft, mean_mph, color='black', lw=3.5, zorder=6, solid_joinstyle='round')

    for side in ['top', 'right', 'left']:
        ax.spines[side].set_visible(False)
    ax.spines['bottom'].set_linewidth(1.6)
    ax.spines['bottom'].set_zorder(7)

    ax.set_xticks(x_ticks)
    ax.set_xticklabels(x_tick_labels, rotation=90, fontsize=17)
    ax.tick_params(axis='x', length=11, width=1.2, pad=5, direction='out')
    shift = ScaledTranslation(9 / 100, 0, fig.dpi_scale_trans)
    for lab in ax.get_xticklabels():
        lab.set_transform(lab.get_transform() + shift)

    ax.set_yticks(y_ticks)
    ax.set_yticklabels([str(v) for v in y_ticks], rotation=90, va='center', fontsize=17)
    ax.tick_params(axis='y', length=5, width=1.2, pad=3, direction='out')

    # street names under the axis
    bold_names = {'NE Mulberry ST', 'NE Tudor RD', 'NE Swann DR', 'NE Columbus ST',
                  '3rd Street', '5th Street', 'Bayberry LN', 'SE Blue PKWY'}
    tr = blended_transform_factory(ax.transData, fig.transFigure)
    for name, s in zip(street_names, street_ft):
        ax.text(s, 1 - 815 / H, name, rotation=90, ha='center', va='top', fontsize=18,
                fontweight='bold' if name in bold_names else 'normal', transform=tr)

    fig.text(21.5 / W, 1 - 995 / H, 'Distance', rotation=90, ha='center', va='bottom', fontsize=18)
    fig.text(48 / W, 1 - 995 / H, 'Scale: 1 in. = 2000 feet', rotation=90, ha='center',
             va='bottom', fontsize=18)
    fig.text(22 / W, 1 - 5 / H, 'Speed (MPH)', rotation=90, ha='center', va='top',
             fontsize=17, fontweight='bold')

    fig.savefig('out.png', dpi=100)


if __name__ == "__main__":
    draw_chart()
